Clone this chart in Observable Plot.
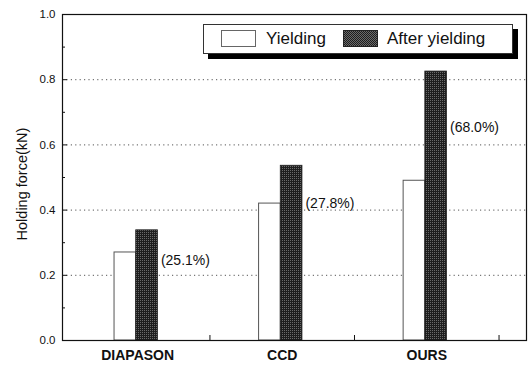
<!DOCTYPE html>
<html><head><meta charset="utf-8">
<script src="https://cdn.jsdelivr.net/npm/d3@7"></script>
<script src="https://cdn.jsdelivr.net/npm/@observablehq/plot@0.6"></script>
<style>
body{margin:0;background:#fff;font-family:"Liberation Sans",Arial,sans-serif;}
#wrap{position:relative;width:528px;height:365px;overflow:hidden;}
.legend{position:absolute;left:203px;top:24px;width:308px;height:28px;border:1px solid #333;background:#fff;box-shadow:5px 5px 0 #000;}
.sw{position:absolute;top:5px;width:35px;height:17px;box-sizing:border-box;}
.sw.y{left:17px;border:1px solid #666;background:#fff;}
.sw.a{left:139px;border:1px solid #222;background:repeating-conic-gradient(#1e1e1e 0 25%, #6a6a6a 0 50%) 0 0/2px 2px;}
.lt{position:absolute;top:3px;font-size:17px;line-height:22px;color:#111;}
</style></head><body><div id="wrap"></div>
<script>
const categories = ["DIAPASON", "CCD", "OURS"];
const seriesNames = ["Yielding", "After yielding"];
const yielding = [0.27, 0.42, 0.49];
const afterYielding = [0.338, 0.536, 0.825];
const increaseLabels = ["(25.1%)", "(27.8%)", "(68.0%)"];
const increaseLabelY = [0.245, 0.421, 0.652];
const yTicks = [0, 0.2, 0.4, 0.6, 0.8, 1.0];
const yMinorTicks = [0.1, 0.3, 0.5, 0.7, 0.9];
const gridTicks = [0.2, 0.4, 0.6, 0.8];
const xBoundaryTicks = [1, 2, 3];
const yAxisTitle = "Holding force(kN)";

const barW = 0.15, barStart = 0.34;
const bars = [];
categories.forEach((c, i) => {
  [yielding[i], afterYielding[i]].forEach((v, s) => {
    bars.push({cat: c, series: seriesNames[s], value: v,
      x1: i + barStart + s * barW, x2: i + barStart + (s + 1) * barW});
  });
});
const notes = categories.map((c, i) => ({x: i + barStart + 2 * barW, y: increaseLabelY[i], text: increaseLabels[i]}));
const catLabels = categories.map((c, i) => ({x: i + 0.5, text: c}));

const chart = Plot.plot({
  width: 528, height: 365,
  marginLeft: 62, marginRight: 2, marginTop: 14, marginBottom: 25,
  style: {fontFamily: "Liberation Sans, Arial, sans-serif", fontSize: "11.5px", color: "#111", background: "#fff", overflow: "visible"},
  x: {domain: [-0.02, 3.19], axis: null},
  y: {domain: [0, 1], axis: null},
  marks: [
    Plot.ruleY(gridTicks, {stroke: "#555", strokeWidth: 1, strokeDasharray: "1.2,3.2"}),
    Plot.rectY(bars.filter(d => d.series === "Yielding"), {x1: "x1", x2: "x2", y1: 0, y2: "value", fill: "#fff", stroke: "#555", strokeWidth: 1}),
    Plot.rectY(bars.filter(d => d.series === "After yielding"), {x1: "x1", x2: "x2", y1: 0, y2: "value", fill: "url(#stip)", stroke: "#222", strokeWidth: 0.8}),
    Plot.text(notes, {x: "x", y: "y", text: "text", textAnchor: "start", dx: 3, fontSize: 14, fill: "#111"}),
    Plot.axisY({ticks: yTicks, tickFormat: d3.format(".1f"), tickSize: -5, tickPadding: 12, fontSize: 11.5, label: null}),
    Plot.axisY({ticks: yMinorTicks, tickSize: -3, text: null, label: null}),
    Plot.axisX({ticks: xBoundaryTicks, tickSize: -5, text: null, label: null}),
    Plot.text(catLabels, {x: "x", y: 0, text: "text", dy: 15, fontWeight: "bold", fontSize: 14, fill: "#111"}),
    Plot.text([{t: yAxisTitle, y: 0.48}], {x: -0.02, y: "y", text: "t", rotate: -90, dx: -40, fontSize: 14.5, fill: "#111"}),
    Plot.frame({stroke: "#111", strokeWidth: 1.2})
  ]
});
const ns = "http://www.w3.org/2000/svg";
const defs = document.createElementNS(ns, "defs");
defs.innerHTML = '<pattern id="stip" width="2" height="2" patternUnits="userSpaceOnUse"><rect width="2" height="2" fill="#1e1e1e"/><rect width="1" height="1" fill="#6a6a6a"/></pattern>';
chart.insertBefore(defs, chart.firstChild);
const wrap = document.getElementById("wrap");
wrap.appendChild(chart);
const lg = document.createElement("div");
lg.className = "legend";
lg.innerHTML = `<div class="sw y"></div><div class="lt" style="left:62px">${seriesNames[0]}</div><div class="sw a"></div><div class="lt" style="left:183px">${seriesNames[1]}</div>`;
wrap.appendChild(lg);
</script>
</body></html>
